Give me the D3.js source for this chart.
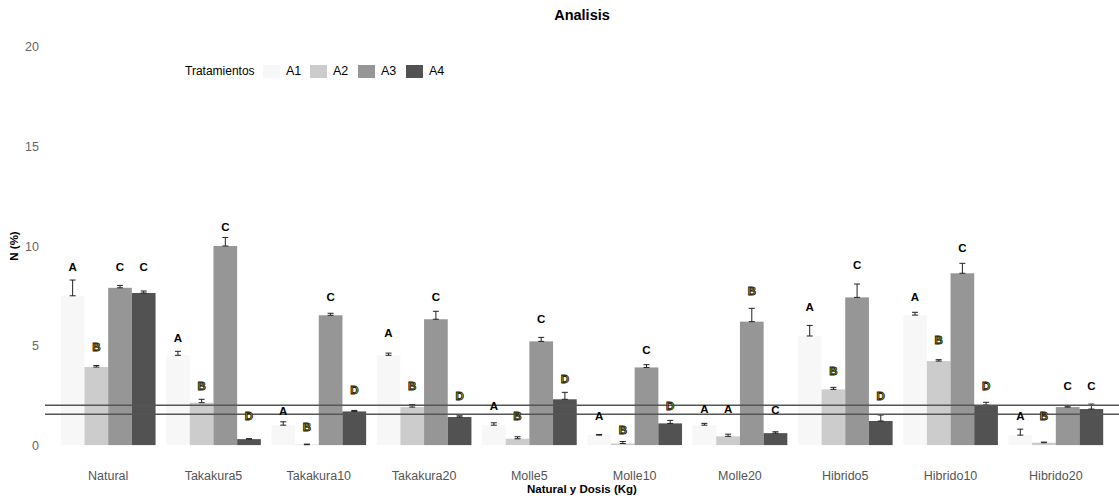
<!DOCTYPE html>
<html><head><meta charset="utf-8">
<script src="https://cdn.jsdelivr.net/npm/d3@7"></script>
<style>body{margin:0;background:#fff;} text{font-family:"Liberation Sans",Arial,sans-serif;}</style>
</head><body><svg id="c" width="1119" height="502"></svg>
<script>
const categories = ["Natural","Takakura5","Takakura10","Takakura20","Molle5","Molle10","Molle20","Hibrido5","Hibrido10","Hibrido20"];
const series = ["A1","A2","A3","A4"];
const A1 = [7.50, 4.51, 1.00, 4.51, 1.00, 0.50, 1.00, 5.48, 6.53, 0.50];
const A2 = [3.92, 2.13, 0.02, 1.91, 0.32, 0.08, 0.44, 2.80, 4.22, 0.12];
const A3 = [7.90, 10.00, 6.52, 6.32, 5.21, 3.90, 6.20, 7.42, 8.63, 1.91];
const A4 = [7.64, 0.30, 1.69, 1.41, 2.30, 1.09, 0.60, 1.21, 2.01, 1.81];
const A1se = [0.79, 0.20, 0.17, 0.11, 0.12, 0.03, 0.09, 0.53, 0.14, 0.30];
const A2se = [0.08, 0.17, 0.03, 0.13, 0.10, 0.10, 0.11, 0.10, 0.07, 0.03];
const A3se = [0.12, 0.43, 0.10, 0.40, 0.20, 0.14, 0.67, 0.67, 0.50, 0.05];
const A4se = [0.10, 0.02, 0.05, 0.06, 0.35, 0.15, 0.07, 0.30, 0.14, 0.25];
const A1let = ["A","A","A","A","A","A","A","A","A","A"];
const A2let = ["B","B","B","B","B","B","A","B","B","B"];
const A3let = ["C","C","C","C","C","C","B","C","C","C"];
const A4let = ["C","D","D","D","D","D","C","D","D","C"];
const A1lab = [8.94, 5.41, 1.74, 5.64, 1.96, 1.46, 1.84, 6.95, 7.44, 1.47];
const A2lab = [4.92, 2.96, 0.92, 2.96, 1.46, 0.75, 1.84, 3.73, 5.28, 1.47];
const A3lab = [8.94, 10.97, 7.45, 7.45, 6.35, 4.77, 7.74, 9.05, 9.93, 2.96];
const A4lab = [8.94, 1.46, 2.75, 2.46, 3.32, 1.96, 1.76, 2.46, 2.96, 2.96];
const refLines = [2.0, 1.55];
const yTicks = [0, 5, 10, 15, 20];
const colors = ["#f7f7f7","#cccccc","#969696","#525252"];

const vals = [A1,A2,A3,A4], ses = [A1se,A2se,A3se,A4se], lets = [A1let,A2let,A3let,A4let], labs = [A1lab,A2lab,A3lab,A4lab];
const rows = [];
categories.forEach((c,i)=>series.forEach((s,j)=>rows.push({cat:c,ser:s,v:vals[j][i],se:ses[j][i],let:lets[j][i],lab:labs[j][i]})));

const svg = d3.select("#c");
const L = 45, R = 1119, T = 27, B = 465;
const x = d3.scaleBand().domain(categories).range([L,R]).paddingInner(0.1).paddingOuter(0.15);
const xs = d3.scaleBand().domain(series).range([0,x.bandwidth()]);
const y = d3.scaleLinear().domain([-1,21]).range([B,T]);
const col = d3.scaleOrdinal().domain(series).range(colors);

// title
svg.append("text").attr("x",(L+R)/2).attr("y",20).attr("text-anchor","middle")
  .attr("font-weight","bold").attr("font-size",14.5).attr("fill","#000").text("Analisis");

// y axis
const ya = svg.append("g").attr("transform",`translate(${L-4},0)`)
  .call(d3.axisLeft(y).tickValues(yTicks).tickSize(0).tickPadding(2));
ya.select(".domain").remove();
ya.selectAll("text").attr("font-size",12.5).attr("fill","#666").attr("font-family","Liberation Sans, Arial, sans-serif");

// x axis
const xa = svg.append("g").attr("transform",`translate(0,${B+4})`)
  .call(d3.axisBottom(x).tickSize(0).tickPadding(0));
xa.select(".domain").remove();
xa.selectAll("text").attr("font-size",12.5).attr("fill","#555").attr("dy","0.85em").attr("font-family","Liberation Sans, Arial, sans-serif");

// axis titles
svg.append("text").attr("x",(L+R)/2).attr("y",493).attr("text-anchor","middle")
  .attr("font-weight","bold").attr("font-size",11.5).text("Natural y Dosis (Kg)");
svg.append("text").attr("transform",`translate(18,${(T+B)/2}) rotate(-90)`).attr("text-anchor","middle")
  .attr("font-weight","bold").attr("font-size",11.5).text("N (%)");

const g = svg.append("g");
const bx = d => x(d.cat) + xs(d.ser);
const cx = d => bx(d) + xs.bandwidth()/2;
const cw = 6;
// bars
g.selectAll("rect.bar").data(rows).join("rect").attr("class","bar")
  .attr("x",bx).attr("width",xs.bandwidth())
  .attr("y",d=>y(d.v)).attr("height",d=>y(0)-y(d.v)).attr("fill",d=>col(d.ser));
// error bars (upper half, from mean to mean+se)
const eb = g.selectAll("g.eb").data(rows).join("g").attr("class","eb").attr("stroke","#222").attr("stroke-width",1);
eb.append("line").attr("x1",cx).attr("x2",cx)
  .attr("y1",d=>y(d.v)).attr("y2",d=>y(d.v+d.se));
eb.append("line").attr("x1",d=>cx(d)-cw/2).attr("x2",d=>cx(d)+cw/2)
  .attr("y1",d=>y(d.v+d.se)).attr("y2",d=>y(d.v+d.se));
eb.append("line").attr("x1",d=>cx(d)-cw/2).attr("x2",d=>cx(d)+cw/2)
  .attr("y1",d=>y(d.v)).attr("y2",d=>y(d.v));
// reference lines
svg.selectAll("line.ref").data(refLines).join("line").attr("class","ref")
  .attr("x1",L).attr("x2",R).attr("y1",d=>y(d)).attr("y2",d=>y(d))
  .attr("stroke","#555").attr("stroke-width",1.3);
// letters
const yl = d => d.let==="B"||d.let==="D";
svg.selectAll("text.let").data(rows).join("text").attr("class","let")
  .attr("x",cx).attr("y",d=>y(d.lab)).attr("dy","0.36em")
  .attr("text-anchor","middle").attr("font-weight","bold").attr("font-size",11.5)
  .attr("fill",d=>yl(d)?"#b3a300":"#000")
  .attr("stroke",d=>yl(d)?"#111":"none").attr("stroke-width",0.8)
  .text(d=>d.let);

// legend
const lg = svg.append("g");
lg.append("text").attr("x",185).attr("y",71).attr("dy","0.35em").attr("font-size",12).attr("fill","#000").text("Tratamientos");
const keyX = [263, 310, 358, 406];
series.forEach((s,i)=>{
  lg.append("rect").attr("x",keyX[i]).attr("y",65).attr("width",17).attr("height",13).attr("fill",col(s));
  lg.append("text").attr("x",keyX[i]+23).attr("y",71).attr("dy","0.35em").attr("font-size",12.5).attr("fill","#000").text(s);
});
</script></body></html>
